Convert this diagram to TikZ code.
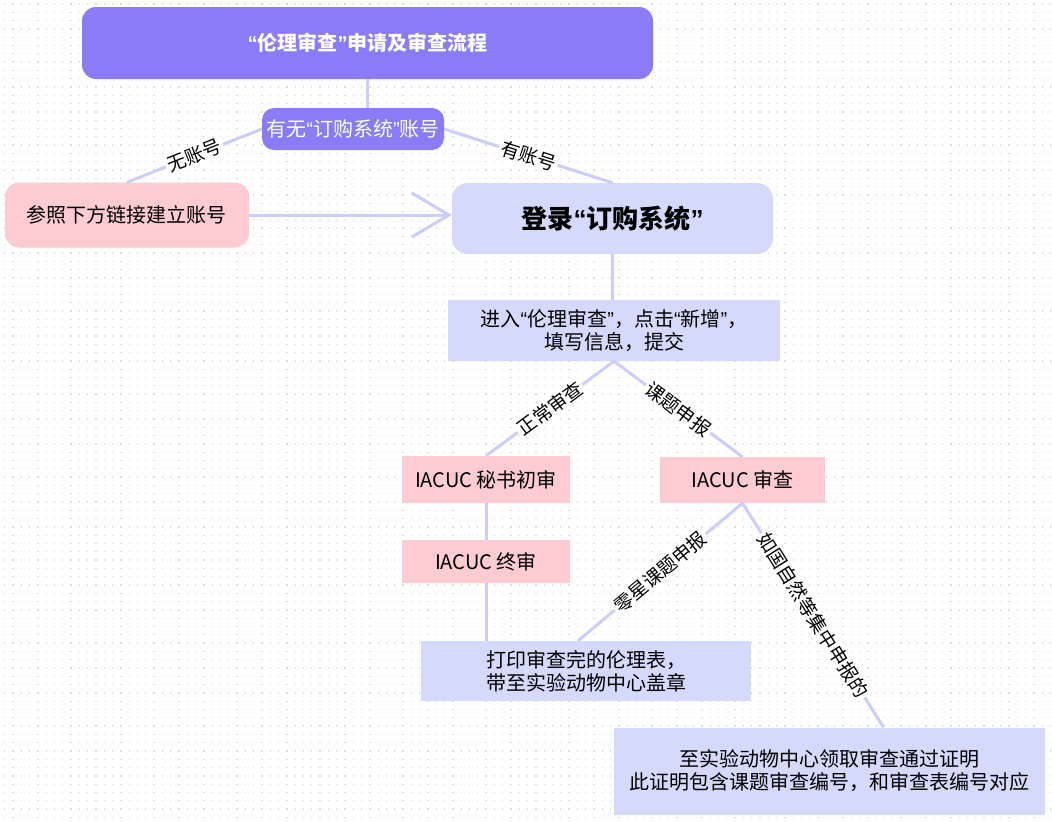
\documentclass[tikz,border=0pt]{standalone}
\usepackage{fontspec}
\setmainfont{Noto Sans CJK SC}
\newfontfamily\quotefont{Liberation Sans}
\newcommand\oq{{\quotefont “}}
\newcommand\cq{{\quotefont ”}}
\usetikzlibrary{arrows.meta,calc}
\definecolor{boxpurple}{HTML}{8B7BF7}
\definecolor{boxlavender}{HTML}{D5D9FC}
\definecolor{boxpink}{HTML}{FDCCD2}
\definecolor{linklavender}{HTML}{CBCEF8}
\definecolor{griddot}{HTML}{DCDCDC}

\begin{document}
\begin{tikzpicture}[x=1pt, y=-1pt, font=\fontsize{20}{23}\selectfont]
     \tikzset{basebox/.style   = {inner sep=0pt, align=center},
              purplebox/.style = {basebox, fill=boxpurple, text=white,
                                  rounded corners=14pt},
              pinkbox/.style   = {basebox, fill=boxpink},
              lavbox/.style    = {basebox, fill=boxlavender},
              link/.style      = {draw=linklavender, line width=3pt},
              linklabel/.style = {fill=white, inner sep=2pt, sloped, midway,
                                  font=\fontsize{19}{22}\selectfont}}
     \useasboundingbox (0,0) rectangle (1052,822);
     \fill[white] (0,0) rectangle (1052,822);
     % grille de points
     \foreach \row in {0,...,98}
        \draw[griddot, line width=1.3pt, dash pattern=on 1.3pt off 7pt]
             (4,{4+8.3*\row}) -- (1052,{4+8.3*\row});
     \node[purplebox, minimum width=571pt, minimum height=72pt,
           font=\fontsize{20}{24}\selectfont\bfseries] (title) at (367.5,43)
           {\oq{}伦理审查\cq{}申请及审查流程};
     \node[purplebox, rounded corners=12pt, minimum width=182pt,
           minimum height=42pt] (account) at (353,129)
           {有无\oq{}订购系统\cq{}账号};
     \node[pinkbox, rounded corners=14pt, minimum width=244pt,
           minimum height=65pt] (newacct) at (127,215)
           {参照下方链接建立账号};
     \node[lavbox, rounded corners=16pt, minimum width=321pt,
           minimum height=71pt, font=\fontsize{26}{30}\selectfont\bfseries]
           (login) at (612.5,218.5) {登录\oq{}订购系统\cq{}};
     \node[lavbox, minimum width=332pt, minimum height=61pt] (entry) at (614,330.5)
           {进入\oq{}伦理审查\cq{}，点击\oq{}新增\cq{}，\\填写信息，提交};
     \node[pinkbox, minimum width=168pt, minimum height=47pt] (secr) at (486,479.5)
           {IACUC 秘书初审};
     \node[pinkbox, minimum width=165pt, minimum height=46pt] (review) at (742.5,480)
           {IACUC 审查};
     \node[pinkbox, minimum width=168pt, minimum height=43pt] (final) at (486,561.5)
           {IACUC 终审};
     \node[lavbox, minimum width=330pt, minimum height=60pt] (printout) at (586,671)
           {打印审查完的伦理表，\\带至实验动物中心盖章};
     \node[lavbox, minimum width=431pt, minimum height=87pt] (certify) at (829.5,771)
           {至实验动物中心领取审查通过证明\\此证明包含课题审查编号，和审查表编号对应};
     \draw[link] (title.south) -- (title.south |- account.north);
     \draw[link] (account.west) -- node[linklabel]{无账号} (newacct.north);
     \draw[link] (account.east) -- node[linklabel]{有账号} (login.north);
     \draw[link, -{Straight Barb[length=37pt,width=44pt]}]
          (newacct.east) -- (newacct.east -| login.west);
     \draw[link] (login.south) -- (login.south |- entry.north);
     \draw[link] (entry.south) -- node[linklabel]{正常审查} (secr.north);
     \draw[link] (entry.south) -- node[linklabel]{课题申报} (review.north);
     \draw[link] (secr) -- (final);
     \draw[link] (final.south) -- (final.south |- printout.north);
     \draw[link] (review.south) -- node[linklabel]{零星课题申报}
          ($(printout.north)+(-8,0)$);
     \draw[link] (review.south) -- node[linklabel]{如国自然等集中申报的}
          ($(certify.north)+(54,0)$);
\end{tikzpicture}
\end{document}
